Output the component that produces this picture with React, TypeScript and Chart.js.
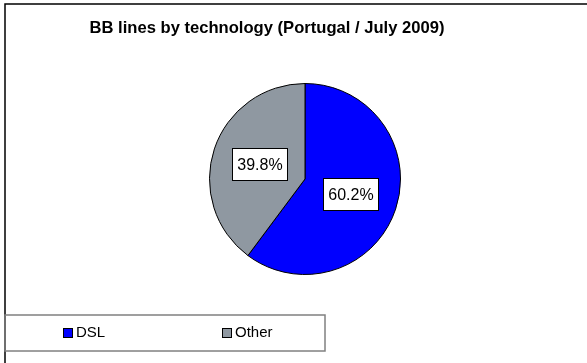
import React, { useEffect, useRef } from "react";
import { Chart, registerables } from "chart.js";

Chart.register(...registerables);

const TITLE = "BB lines by technology (Portugal / July 2009)";
const categories = ["DSL", "Other"];
const shares = [60.2, 39.8];
const sliceColors = ["#0000FF", "#8F98A1"];

const FONT = "'Liberation Sans', Arial, sans-serif";

const decorPlugin = {
  id: "decor",
  beforeDraw(chart: any) {
    const ctx = chart.ctx;
    ctx.save();
    ctx.fillStyle = "#ffffff";
    ctx.fillRect(0, 0, chart.width, chart.height);
    // outer frame
    ctx.strokeStyle = "#000000";
    ctx.lineWidth = 1.5;
    ctx.strokeRect(5, 4, chart.width + 20, chart.height + 20);
    // title
    ctx.fillStyle = "#000000";
    ctx.font = `bold 16.6px ${FONT}`;
    ctx.textAlign = "center";
    ctx.textBaseline = "middle";
    ctx.fillText(TITLE, 267, 28);
    // legend box
    ctx.strokeStyle = "#808080";
    ctx.lineWidth = 1.5;
    ctx.strokeRect(5, 315, 320, 36);
    const xs = [63, 222];
    ctx.font = `15px ${FONT}`;
    ctx.textAlign = "left";
    categories.forEach((c, i) => {
      ctx.fillStyle = sliceColors[i];
      ctx.fillRect(xs[i], 328, 9, 9);
      ctx.strokeStyle = "#000000";
      ctx.lineWidth = 1;
      ctx.strokeRect(xs[i] + 0.5, 328.5, 9, 9);
      ctx.fillStyle = "#000000";
      ctx.fillText(c, xs[i] + 13, 333);
    });
    ctx.restore();
  },
  afterDatasetsDraw(chart: any) {
    const ctx = chart.ctx;
    const meta = chart.getDatasetMeta(0);
    ctx.save();
    ctx.font = `16px ${FONT}`;
    ctx.textAlign = "center";
    ctx.textBaseline = "middle";
    meta.data.forEach((arc: any, i: number) => {
      const p = arc.tooltipPosition();
      const txt = shares[i].toFixed(1) + "%";
      const w = Math.round(ctx.measureText(txt).width + 10);
      const h = 32;
      const x0 = Math.round(p.x - w / 2) + 0.5;
      const y0 = Math.round(p.y - h / 2) + 0.5;
      ctx.fillStyle = "#ffffff";
      ctx.fillRect(x0, y0, w, h);
      ctx.strokeStyle = "#000000";
      ctx.lineWidth = 1;
      ctx.strokeRect(x0, y0, w, h);
      ctx.fillStyle = "#000000";
      ctx.fillText(txt, x0 + w / 2, y0 + h / 2 + 1);
    });
    ctx.restore();
  },
};

export default function App() {
  const ref = useRef<HTMLCanvasElement>(null);
  useEffect(() => {
    document.body.style.margin = "0";
    const chart = new Chart(ref.current!, {
      type: "pie",
      data: {
        labels: categories,
        datasets: [
          {
            data: shares,
            backgroundColor: sliceColors,
            borderColor: "#000000",
            borderWidth: 1,
          },
        ],
      },
      options: {
        animation: false,
        responsive: false,
        events: [],
        layout: { padding: { left: 208, right: 185, top: 83, bottom: 88 } },
        plugins: {
          legend: { display: false },
          title: { display: false },
          tooltip: { enabled: false },
        },
      },
      plugins: [decorPlugin],
    });
    return () => chart.destroy();
  }, []);
  return (
    <div style={{ width: 587, height: 363 }}>
      <canvas ref={ref} width={587} height={363} style={{ display: "block" }} />
    </div>
  );
}
